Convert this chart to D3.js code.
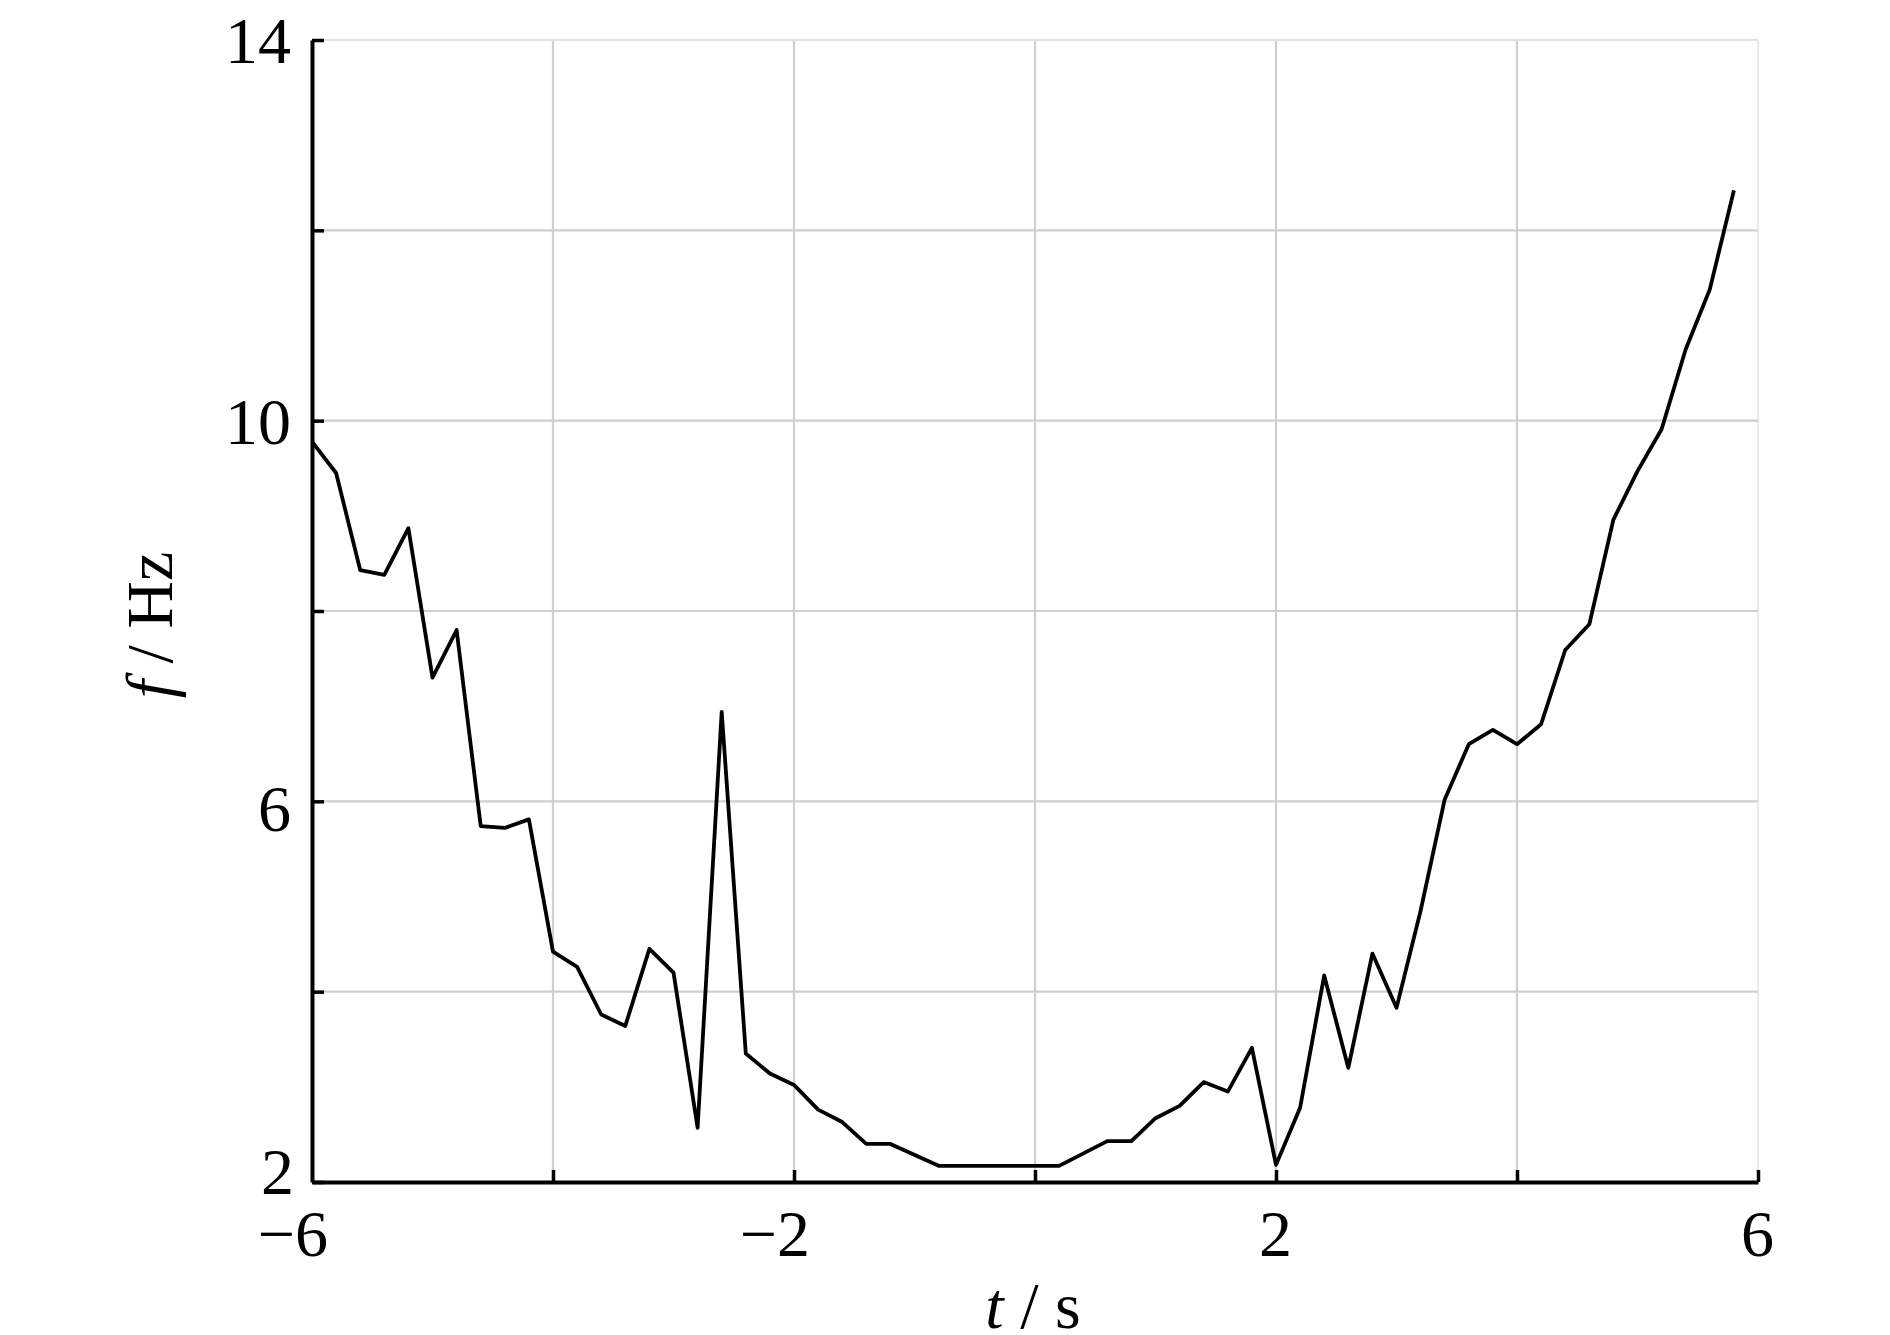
<!DOCTYPE html>
<html>
<head>
<meta charset="utf-8">
<script src="https://cdn.jsdelivr.net/npm/d3@7"></script>
<style>
  html, body { margin: 0; padding: 0; background: #fff; }
  svg { display: block; }
  text { font-family: "Liberation Serif", "Times New Roman", serif; fill: #000; }
</style>
</head>
<body>
<svg id="chart" width="1890" height="1335"></svg>
<script>
// ---- data ----
const timeS = [-6.0, -5.8, -5.6, -5.4, -5.2, -5.0, -4.8, -4.6, -4.4, -4.2, -4.0, -3.8, -3.6, -3.4, -3.2, -3.0,
  -2.8, -2.6, -2.4, -2.2, -2.0, -1.8, -1.6, -1.4, -1.2, -0.8, 0.2, 0.6, 0.8, 1.0, 1.2, 1.4, 1.6, 1.8,
  2.0, 2.2, 2.4, 2.6, 2.8, 3.0, 3.2, 3.4, 3.6, 3.8, 4.0, 4.2, 4.4, 4.6, 4.8, 5.0, 5.2, 5.4, 5.6, 5.8];
const freqHz = [9.78, 9.45, 8.43, 8.38, 8.87, 7.30, 7.80, 5.74, 5.72, 5.81, 4.42, 4.26, 3.76, 3.64, 4.45, 4.20,
  2.57, 6.94, 3.35, 3.14, 3.02, 2.76, 2.63, 2.40, 2.40, 2.17, 2.17, 2.43, 2.43, 2.67, 2.80, 3.05, 2.95, 3.41,
  2.18, 2.78, 4.17, 3.20, 4.40, 3.83, 4.85, 6.02, 6.60, 6.75, 6.60, 6.81, 7.59, 7.86, 8.96, 9.47, 9.91, 10.75, 11.38, 12.42];
const xTicks = [-6, -4, -2, 0, 2, 4, 6];
const xTickLabels = [-6, -2, 2, 6];
const yTicks = [2, 4, 6, 8, 10, 12, 14];
const yTickLabels = [2, 6, 10, 14];

// ---- layout ----
const svg = d3.select("#chart");
const x = d3.scaleLinear().domain([-6, 6]).range([312, 1758]);
const y = d3.scaleLinear().domain([2, 14]).range([1182, 40]);
const fmt = v => (v < 0 ? "\u2212" : "") + Math.abs(v);
const fontSize = 66;

// grid
const grid = svg.append("g");
grid.selectAll("line.gx").data(xTicks.filter(d => d > -6)).join("line")
  .attr("x1", d => x(d)).attr("x2", d => x(d))
  .attr("y1", y(14)).attr("y2", y(2))
  .attr("stroke", d => d === 6 ? "#ebebeb" : "#cfcfcf").attr("stroke-width", 2.2);
grid.selectAll("line.gy").data(yTicks.filter(d => d > 2)).join("line")
  .attr("x1", x(-6)).attr("x2", x(6))
  .attr("y1", d => y(d)).attr("y2", d => y(d))
  .attr("stroke", d => d === 14 ? "#e2e2e2" : "#cfcfcf").attr("stroke-width", 2.2);

// data line
const line = d3.line().x((d, i) => x(timeS[i])).y(d => y(d));
svg.append("path").datum(freqHz)
  .attr("d", line)
  .attr("fill", "none").attr("stroke", "#000").attr("stroke-width", 3.8)
  .attr("stroke-linejoin", "round");

// axes via d3 axis (inward ticks)
const xAxis = d3.axisBottom(x).tickValues(xTicks).tickSizeInner(-12).tickSizeOuter(0).tickFormat("");
const yAxis = d3.axisLeft(y).tickValues(yTicks).tickSizeInner(-12).tickSizeOuter(0).tickFormat("");
const gx = svg.append("g").attr("transform", `translate(0,${y(2)})`).call(xAxis);
const gy = svg.append("g").attr("transform", `translate(${x(-6)},0)`).call(yAxis);
[gx, gy].forEach(g => {
  g.select(".domain").attr("stroke", "#000").attr("stroke-width", 4);
  g.selectAll(".tick line").attr("stroke", "#000").attr("stroke-width", 3.5);
});
gx.selectAll(".tick").filter(d => d === -6).select("line").remove();

// tick labels
svg.append("g").selectAll("text").data(xTickLabels).join("text")
  .attr("x", d => x(d) + 16)
  .attr("y", 1256)
  .attr("text-anchor", "end")
  .attr("font-size", fontSize)
  .text(d => fmt(d));
svg.append("g").selectAll("text").data(yTickLabels).join("text")
  .attr("x", d => d === 2 ? 294 : 291)
  .attr("y", d => y(d) + 23 - (d === 2 ? 11 : 0) + (d === 6 ? 7 : 0))
  .attr("text-anchor", "end")
  .attr("font-size", fontSize)
  .text(d => d);

// axis titles
const xt = svg.append("text").attr("x", x(0) - 2).attr("y", 1328)
  .attr("text-anchor", "middle").attr("font-size", fontSize);
xt.append("tspan").attr("font-style", "italic").text("t");
xt.append("tspan").text(" / s");

const yt = svg.append("text")
  .attr("transform", `translate(172,625) rotate(-90)`)
  .attr("text-anchor", "middle").attr("font-size", fontSize);
yt.append("tspan").attr("font-style", "italic").text("f");
yt.append("tspan").text(" / Hz");
</script>
</body>
</html>
